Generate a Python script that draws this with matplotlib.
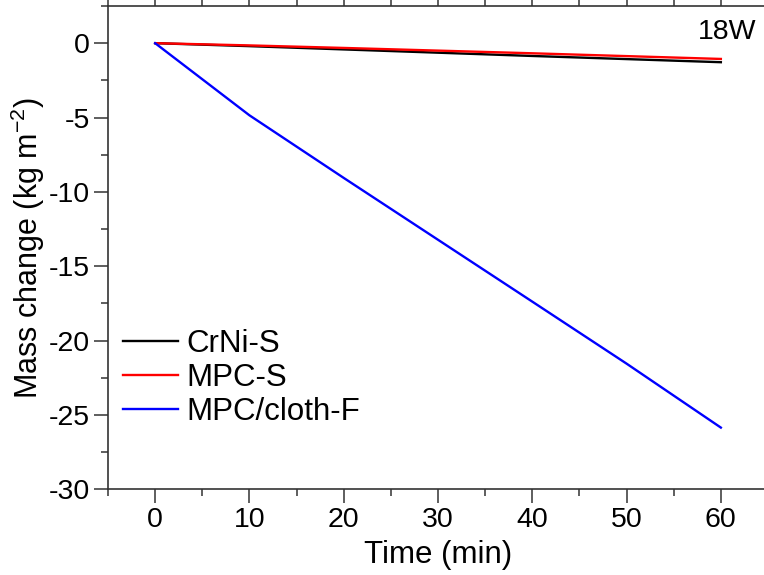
import matplotlib
matplotlib.use("Agg")
import matplotlib.pyplot as plt
from matplotlib.ticker import MultipleLocator

plt.rcParams['font.family'] = ['Liberation Sans', 'DejaVu Sans']
plt.rcParams['axes.unicode_minus'] = False
plt.rcParams['mathtext.fontset'] = 'custom'
plt.rcParams['mathtext.rm'] = 'Liberation Sans'
plt.rcParams['mathtext.it'] = 'Liberation Sans:italic'
plt.rcParams['mathtext.bf'] = 'Liberation Sans:bold'

time_min = [0, 10, 20, 30, 40, 50, 60]
crni_s = [0, -0.20, -0.42, -0.64, -0.86, -1.07, -1.28]
mpc_s = [0, -0.15, -0.32, -0.50, -0.68, -0.87, -1.06]
mpc_cloth_f = [0, -4.85, -9.06, -13.22, -17.38, -21.55, -25.85]

series = [
    ("CrNi-S", crni_s, "black"),
    ("MPC-S", mpc_s, "#ff0000"),
    ("MPC/cloth-F", mpc_cloth_f, "#0000ff"),
]

W, H = 764, 575
fig = plt.figure(figsize=(W / 100, H / 100), dpi=100)
left, right, top, bottom = 108, 768, 6, 489.3
ax = fig.add_axes([left / W, 1 - bottom / H, (right - left) / W, (bottom - top) / H])

for name, vals, col in series:
    ax.plot(time_min, vals, color=col, lw=1.7, label=name)

ax.set_xlim(-5, 65)
ax.set_ylim(-30, 2.5)
ax.xaxis.set_major_locator(MultipleLocator(10))
ax.xaxis.set_minor_locator(MultipleLocator(5))
ax.yaxis.set_major_locator(MultipleLocator(5))
ax.yaxis.set_minor_locator(MultipleLocator(2.5))

spine_col = "#333333"
for s in ax.spines.values():
    s.set_color(spine_col)
    s.set_linewidth(1.2)
ax.spines['right'].set_visible(False)

ax.tick_params(which='both', direction='out', colors=spine_col, labelcolor='black',
               top=True, labeltop=False, labelsize=20.5, width=1.1)
ax.tick_params(which='major', length=10, pad=3)
ax.tick_params(which='minor', length=5)

ax.set_xlabel("Time (min)", fontsize=22.5)
ax.set_ylabel("Mass change (kg m$^{-2}$)", fontsize=22)
ax.xaxis.set_label_coords(0.5, -0.105)
ax.yaxis.set_label_coords(-0.092, 0.5)

fig.text(727 / W, 1 - 32 / H, "18W", fontsize=20.5, ha='center', va='center')

leg = ax.legend(loc='upper left', bbox_to_anchor=(123 / W, 1 - 329 / H),
                bbox_transform=fig.transFigure, frameon=False, fontsize=22.5,
                handlelength=1.75, handletextpad=0.28, labelspacing=0.12,
                borderpad=0, borderaxespad=0)

fig.savefig("out.png", dpi=100)
